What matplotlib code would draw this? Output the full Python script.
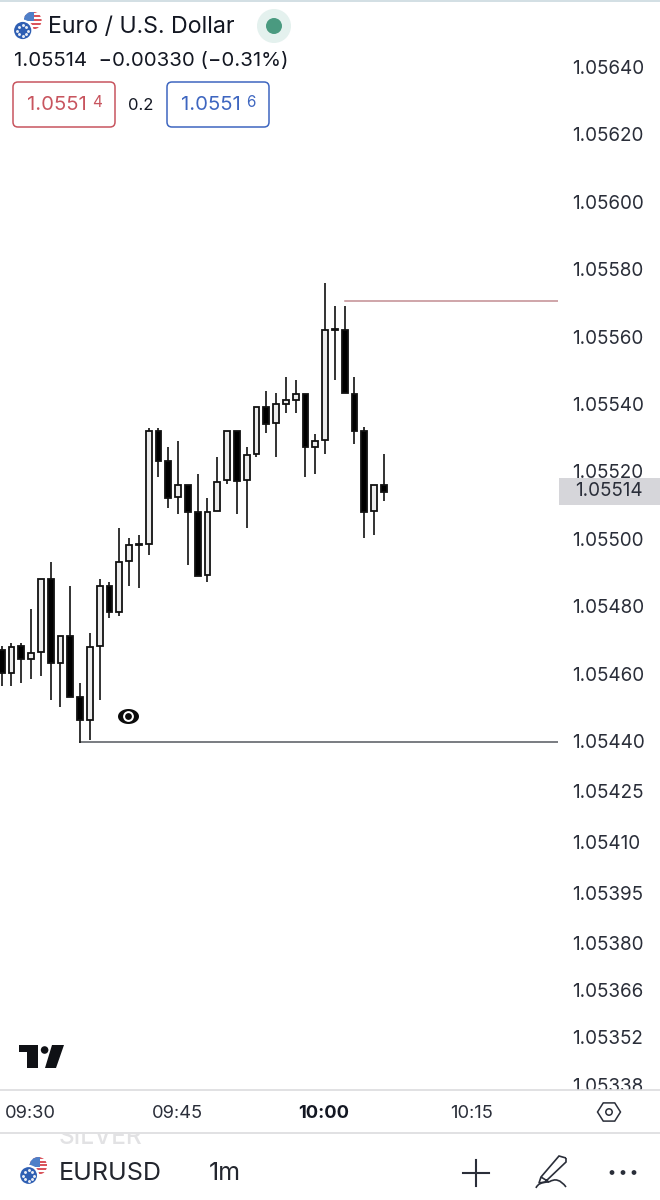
import numpy as np
import matplotlib
matplotlib.use("Agg")
import matplotlib.pyplot as plt
from matplotlib.patches import Circle, Rectangle, FancyBboxPatch, Polygon, PathPatch
from matplotlib.path import Path

plt.rcParams['font.family'] = ['Inter', 'DejaVu Sans']

# candles, one per minute, first one is 09:27
opens = [1.054670, 1.054603, 1.054682, 1.054643, 1.054664, 1.054881, 1.054632, 1.054712,
         1.054531, 1.054462, 1.054683, 1.054860, 1.054784, 1.054934, 1.054982, 1.054984,
         1.055321, 1.055231, 1.055123, 1.055161, 1.055080, 1.054893, 1.055082, 1.055174,
         1.055321, 1.055174, 1.055252, 1.055391, 1.055343, 1.055401, 1.055413, 1.055431,
         1.055272, 1.055292, 1.055620, 1.055620, 1.055431, 1.055320, 1.055082, 1.055160]
highs = [1.054682, 1.054691, 1.054691, 1.054792, 1.054881, 1.054932, 1.054711, 1.054860,
         1.054572, 1.054720, 1.054881, 1.054872, 1.055032, 1.055002, 1.055011, 1.055330,
         1.055330, 1.055272, 1.055291, 1.055161, 1.055191, 1.055122, 1.055242, 1.055319,
         1.055321, 1.055272, 1.055391, 1.055439, 1.055432, 1.055481, 1.055471, 1.055431,
         1.055311, 1.055760, 1.055691, 1.055691, 1.055481, 1.055331, 1.055160, 1.055252]
lows = [1.054563, 1.054563, 1.054573, 1.054584, 1.054594, 1.054522, 1.054502, 1.054531,
        1.054394, 1.054403, 1.054522, 1.054765, 1.054772, 1.054861, 1.054854, 1.054952,
        1.055183, 1.055092, 1.055073, 1.054922, 1.054890, 1.054872, 1.055082, 1.055162,
        1.055073, 1.055031, 1.055244, 1.055313, 1.055242, 1.055372, 1.055372, 1.055183,
        1.055192, 1.055252, 1.055471, 1.055432, 1.055282, 1.055001, 1.055011, 1.055112]
closes = [1.054602, 1.054680, 1.054643, 1.054661, 1.054881, 1.054631, 1.054711, 1.054531,
          1.054462, 1.054680, 1.054860, 1.054783, 1.054931, 1.054982, 1.054984, 1.055320,
          1.055231, 1.055122, 1.055160, 1.055080, 1.054890, 1.055079, 1.055169, 1.055319,
          1.055171, 1.055249, 1.055391, 1.055342, 1.055399, 1.055411, 1.055430, 1.055272,
          1.055290, 1.055620, 1.055622, 1.055432, 1.055321, 1.055080, 1.055160, 1.055140]

price_ticks = [1.05640, 1.05620, 1.05600, 1.05580, 1.05560, 1.05540, 1.05520, 1.05500, 1.05480,
               1.05460, 1.05440, 1.05425, 1.05410, 1.05395, 1.05380, 1.05366, 1.05352, 1.05338]
time_ticks = [3, 18, 33, 48]
time_labels = ["09:30", "09:45", "10:00", "10:15"]

resistance = 1.055707
resistance_from = 35
support = 1.054396
support_from = 8

TEXT = "#131722"

fig = plt.figure(figsize=(6.6, 12), dpi=100, facecolor="white")

# main chart, 0-558 px wide and 0-1090 px down
ax = fig.add_axes([0, 110 / 1200, 558 / 660, 1090 / 1200], facecolor="none")
ax.set_xlim(-0.173, 56.77)
ax.set_ylim(1.053364, 1.056599)
for s in ax.spines.values():
    s.set_visible(False)

opens = np.array(opens)
closes = np.array(closes)
minutes = np.arange(len(opens))
falling = closes < opens
colors = np.where(falling, "#000000", "#ececec")

ax.vlines(minutes, lows, highs, color="#1a1a1a", lw=1.25, zorder=2)
ax.bar(minutes, np.abs(closes - opens), bottom=np.minimum(opens, closes), width=0.6,
       color=colors, edgecolor="#111111", linewidth=1.3, zorder=3)

ax.plot([resistance_from, 56.77], [resistance, resistance], color="#c28d92", lw=1.1, zorder=1)
ax.plot([support_from, 56.77], [support, support], color="#55585f", lw=1.1, zorder=1)

ax.set_xticks([])
ax.yaxis.tick_right()
ax.set_yticks(price_ticks)
ax.set_yticklabels([f"{p:.5f}" for p in price_ticks])
ax.tick_params(axis="y", length=0, pad=10.3, labelsize=13.6, labelcolor="#2a2e39")

# time axis strip, also hides the bottom of the lowest price label
tax = fig.add_axes([0, 67 / 1200, 1, 43 / 1200], facecolor="white", zorder=2)
tax.set_xlim(-0.07, 67.27)
tax.set_yticks([])
for s in tax.spines.values():
    s.set_color("#dcdcde")
    s.set_linewidth(1.2)
tax.spines["left"].set_visible(False)
tax.spines["right"].set_visible(False)
tax.set_xticks(time_ticks)
tax.set_xticklabels(time_labels)
tax.tick_params(axis="x", length=0, pad=-20, labelsize=13.2, labelcolor="#2a2e39")
tax.get_xticklabels()[2].set_fontweight("bold")
tax.get_xticklabels()[2].set_color(TEXT)

# everything else is page furniture, in pixels
ov = fig.add_axes([0, 0, 1, 1], facecolor="none", zorder=5)
ov.set_xlim(0, 660)
ov.set_ylim(1200, 0)
ov.axis("off")


def draw_flag(cx, cy, r):
    # US part, up and to the right
    fx, fy = cx + 1.1 * r, cy - 1.1 * r
    clip = Circle((fx, fy), r, transform=ov.transData)
    for k in range(5):
        st = Rectangle((fx - r, fy - r + k * 0.42 * r), 2 * r, 0.21 * r, color="#d9545c", lw=0, zorder=3)
        ov.add_patch(st)
        st.set_clip_path(clip)
    can = Rectangle((fx - r, fy - r), r * 1.15, r * 1.1, color="#4f7fc8", lw=0, zorder=4)
    ov.add_patch(can)
    can.set_clip_path(clip)
    # EU part
    ov.add_patch(Circle((cx, cy), r * 1.08, facecolor="#2f5fb3", edgecolor="white", lw=1.6, zorder=5))
    for a in np.arange(0, 2 * np.pi, np.pi / 4):
        ov.plot(cx + 0.58 * r * np.cos(a), cy + 0.58 * r * np.sin(a), "o", ms=1.1, color="#e9edf5", zorder=6)


ov.add_patch(Rectangle((0, 0), 660, 1.5, color="#d3dfe4", lw=0))

# header
draw_flag(22.7, 30.5, 9)
ov.text(48, 27, "Euro / U.S. Dollar", fontsize=16.7, color=TEXT, va="center", ha="left")
ov.add_patch(Circle((274, 26), 17, color="#e4f1ee", lw=0))
ov.add_patch(Circle((274, 26), 8, color="#4a9a80", lw=0))
ov.text(14, 61, "1.05514  \u22120.00330 (\u22120.31%)", fontsize=14.7, color=TEXT, va="center", ha="left")

# bid and ask boxes
for x0, col, big, small in [(13, "#c8555f", "1.0551", "4"), (167, "#3e66c0", "1.0551", "6")]:
    ov.add_patch(FancyBboxPatch((x0, 82), 102, 45, boxstyle="round,pad=0,rounding_size=5",
                                facecolor="white", edgecolor=col, lw=1.1))
    ov.text(x0 + 13.5, 105.5, big, fontsize=14.6, color=col, va="center", ha="left")
    ov.text(x0 + 79, 102.5, small, fontsize=11, color=col, va="center", ha="left")
ov.text(141, 105, "0.2", fontsize=12, color=TEXT, va="center", ha="center")

# last price tag
ov.add_patch(Rectangle((559, 478), 101, 27, color="#d6d6da", lw=0))
ov.text(609, 491.5, "1.05514", fontsize=13.6, color="#2a2e39", va="center", ha="center")

# eye marker
t = np.linspace(0, np.pi, 30)
eye_x = np.r_[128.5 + 10.5 * np.cos(t), 128.5 + 10.5 * np.cos(t[::-1])]
eye_y = np.r_[716.5 - 7.5 * np.sin(t), 716.5 + 7.5 * np.sin(t[::-1])]
ov.add_patch(Polygon(np.c_[eye_x, eye_y], closed=True, color="#0b0b0b", lw=0))
ov.add_patch(Circle((128.5, 716.5), 5.4, color="white", lw=0))
ov.add_patch(Circle((128.5, 716.5), 3.4, color="#0b0b0b", lw=0))

# TradingView mark
ov.add_patch(Polygon([(18.5, 1045), (37.5, 1045), (37.5, 1068), (26.5, 1068), (26.5, 1052), (18.5, 1052)],
                     closed=True, color="#0f1115", lw=0))
ov.add_patch(Circle((44.6, 1050), 3.8, color="#0f1115", lw=0))
ov.add_patch(Polygon([(52, 1045), (64, 1045), (56, 1068), (45, 1068)], closed=True, color="#0f1115", lw=0))

# hexagon settings button
a = np.deg2rad(np.arange(0, 360, 60))
ov.add_patch(Polygon(np.c_[609 + 11.5 * np.cos(a), 1112 + 10.5 * np.sin(a)], closed=True,
                     facecolor="none", edgecolor="#2a2e39", lw=1.1))
ov.add_patch(Circle((609, 1112), 3.2, facecolor="none", edgecolor="#2a2e39", lw=1.1))

# bottom bar
silver = ov.text(101, 1137.5, "SILVER", fontsize=17.5, color="#e2e2e4", va="center", ha="center",
                 weight="medium", clip_on=True)
silver.set_clip_path(Rectangle((0, 1133.5), 660, 30, transform=ov.transData))
draw_flag(28.6, 1175.5, 8.8)
ov.text(59, 1173, "EURUSD", fontsize=18, color="#23262e", va="center", ha="left")
ov.text(209, 1173, "1m", fontsize=18, color="#23262e", va="center", ha="left")
ov.plot([463, 489], [1173, 1173], color="#2a2e39", lw=1.5)
ov.plot([476, 476], [1160, 1186], color="#2a2e39", lw=1.5)
pen = Path([(566, 1158), (559, 1156), (541, 1177), (539, 1183), (545, 1182), (566, 1162), (566, 1158),
            (541, 1177), (549, 1182)],
           [Path.MOVETO, Path.LINETO, Path.LINETO, Path.LINETO, Path.LINETO, Path.LINETO, Path.LINETO,
            Path.MOVETO, Path.LINETO])
ov.add_patch(PathPatch(pen, facecolor="none", edgecolor="#2a2e39", lw=1.2))
swirl = Path([(549, 1182), (558, 1176), (566, 1187)], [Path.MOVETO, Path.CURVE3, Path.CURVE3])
ov.add_patch(PathPatch(swirl, facecolor="none", edgecolor="#2a2e39", lw=1.2))
swirl2 = Path([(549, 1182), (538, 1182), (536, 1188)], [Path.MOVETO, Path.CURVE3, Path.CURVE3])
ov.add_patch(PathPatch(swirl2, facecolor="none", edgecolor="#2a2e39", lw=1.2))
for dx in [612, 623, 634]:
    ov.add_patch(Circle((dx, 1172.5), 2.4, color="#2a2e39", lw=0))

fig.savefig("out.png", dpi=100)
